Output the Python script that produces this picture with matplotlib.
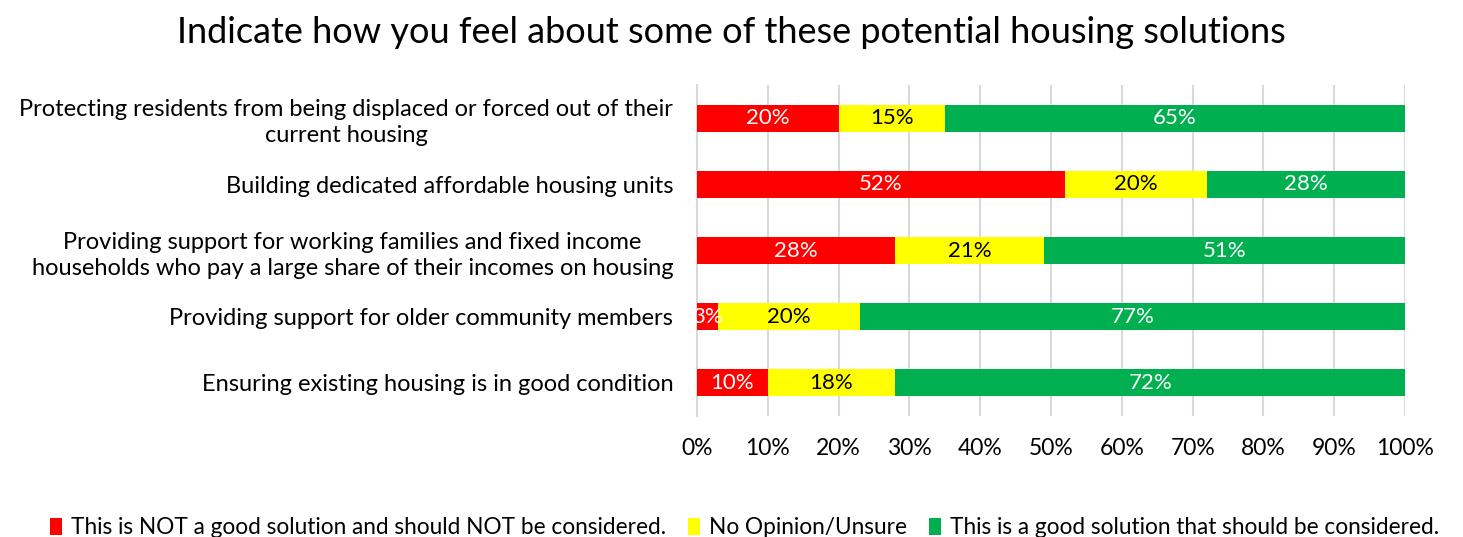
import numpy as np
import matplotlib.pyplot as plt
from matplotlib.patches import Patch

plt.rcParams['font.family'] = ['Lato', 'DejaVu Sans']

questions = [
    'Protecting residents from being displaced or forced out of their\ncurrent housing',
    'Building dedicated affordable housing units',
    'Providing support for working families and fixed income\nhouseholds who pay a large share of their incomes on housing',
    'Providing support for older community members',
    'Ensuring existing housing is in good condition',
]
not_good = [20, 52, 28, 3, 10]
unsure = [15, 20, 21, 20, 18]
good = [65, 28, 51, 77, 72]

series_names = [
    'This is NOT a good solution and should NOT be considered.',
    'No Opinion/Unsure',
    'This is a good solution that should be considered.',
]
colors = ['#FF0000', '#FFFF00', '#00B050']
text_colors = ['white', 'black', 'white']

fig = plt.figure(figsize=(14.63, 5.37), dpi=100)
ax = fig.add_axes([0.4764, 0.2253, 0.484, 0.6164])

y = np.arange(len(questions))
left = np.zeros(len(questions))
for vals, col, tcol in zip([not_good, unsure, good], colors, text_colors):
    vals = np.array(vals)
    ax.barh(y, vals, left=left, height=0.41, color=col, zorder=3)
    for yi, l, v in zip(y, left, vals):
        ax.text(l + v / 2, yi, f'{v}%', ha='center', va='center',
                color=tcol, fontsize=16, zorder=4)
    left = left + vals

ax.set_xlim(0, 100)
ax.set_ylim(len(questions) - 0.5, -0.5)
ax.set_xticks(np.arange(0, 101, 10))
ax.set_xticklabels([f'{t}%' for t in range(0, 101, 10)], fontsize=16.5)
ax.set_yticks(y)
ax.set_yticklabels(questions, fontsize=17, multialignment='center', linespacing=1.3)
ax.tick_params(axis='y', length=0, pad=17)
ax.tick_params(axis='x', length=0, pad=16)

ax.grid(axis='x', color='#D9D9D9', linewidth=1.5, zorder=0)
for side in ['top', 'right', 'bottom']:
    ax.spines[side].set_visible(False)
ax.spines['left'].set_color('#D9D9D9')
ax.spines['left'].set_linewidth(1.5)

fig.suptitle('Indicate how you feel about some of these potential housing solutions',
             fontsize=26, y=0.97)

handles = [Patch(facecolor=c) for c in colors]
fig.legend(handles, series_names, loc='lower center', ncol=3, frameon=False,
           fontsize=16.3, bbox_to_anchor=(0.509, -0.04), handlelength=0.5,
           handleheight=0.8, handletextpad=0.4, columnspacing=1.0)

fig.savefig('out.png', dpi=100)
